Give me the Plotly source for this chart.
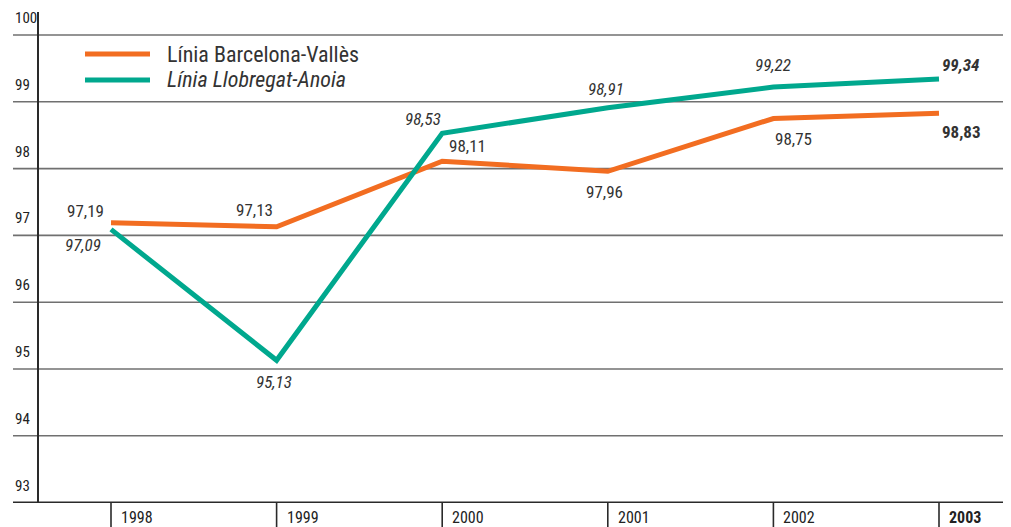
import plotly.graph_objects as go

# ---- data ----
years = [1998, 1999, 2000, 2001, 2002, 2003]
year_labels = ["1998", "1999", "2000", "2001", "2002", "<b>2003</b>"]
barcelona_valles = [97.19, 97.13, 98.11, 97.96, 98.75, 98.83]
llobregat_anoia = [97.09, 95.13, 98.53, 98.91, 99.22, 99.34]
barcelona_text = ["97,19", "97,13", "98,11", "97,96", "98,75", "<b>98,83</b>"]
llobregat_text = ["<i>97,09</i>", "<i>95,13</i>", "<i>98,53</i>", "<i>98,91</i>", "<i>99,22</i>", "<b><i>99,34</i></b>"]
y_ticks = [93, 94, 95, 96, 97, 98, 99, 100]
series_names = ["Línia Barcelona-Vallès", "<i>Línia Llobregat-Anoia</i>"]

# ---- styles ----
ORANGE = "#F26D21"
GREEN = "#00A88E"
TEXT = "#333333"
GRID = "#707070"
AXIS = "#2a2a2a"
FONT = "Roboto Condensed, Liberation Sans Narrow, DejaVu Sans Condensed, Arial Narrow, sans-serif"

# page has an 8px body margin; the figure occupies page pixels 8..1011 x 8..527
BODY = 8
W, H = 1011 - BODY, 527 - BODY
AX_X, AX_TOP, AX_BOT = 38, 12, 503          # page pixel positions of the plot area
ML, MT, MR = AX_X - BODY, AX_TOP - BODY, 0
MB = 527 - AX_BOT
plot_w = W - ML - MR
plot_h = H - MT - MB
px_per_year = 165.6
x0_range = 1998 - (111 - AX_X) / px_per_year
x1_range = x0_range + plot_w / px_per_year
px_per_unit = 66.8
y1_range = 100 + (35 - AX_TOP) / px_per_unit
y0_range = y1_range - plot_h / px_per_unit


def px_x(p):
    return (p - AX_X) / plot_w


def px_y(p):
    return (AX_BOT - p) / plot_h


# label placement (xanchor, xshift, yshift)
orange_pos = [("right", -5, 12), ("right", -2, 17), ("left", 5, 15),
              ("center", -3, -21), ("left", 0, -20), ("left", 1, -19)]
green_pos = [("right", -8, -16), ("center", -3, -22), ("right", 1, 14),
             ("center", -2, 19), ("center", 0, 22), ("left", 1, 14)]

fig = go.Figure()
fig.add_trace(go.Scatter(x=years, y=barcelona_valles, mode="lines", name=series_names[0],
                         line=dict(color=ORANGE, width=5), showlegend=False, cliponaxis=False))
fig.add_trace(go.Scatter(x=years, y=llobregat_anoia, mode="lines", name=series_names[1],
                         line=dict(color=GREEN, width=5), showlegend=False, cliponaxis=False))

shapes = []
gx0 = px_x(13)
# horizontal gridlines
for t in y_ticks:
    shapes.append(dict(type="line", xref="paper", yref="y", x0=gx0, x1=px_x(1030), y0=t, y1=t,
                       line=dict(color=AXIS if t == y_ticks[0] else GRID,
                                 width=2 if t == y_ticks[0] else 1.6), layer="below"))
# vertical axis line
shapes.append(dict(type="line", xref="paper", yref="paper", x0=0, x1=0, y0=0, y1=1,
                   line=dict(color=AXIS, width=2)))
# year tick lines below axis
for yr in years:
    shapes.append(dict(type="line", xref="x", yref="paper", x0=yr, x1=yr, y0=0, y1=px_y(527),
                       line=dict(color=AXIS, width=1.6)))

annotations = []
# y tick labels
for t in y_ticks:
    annotations.append(dict(xref="paper", yref="y", x=px_x(13), y=t, xanchor="left",
                            yanchor="middle", yshift=17, text=str(t), showarrow=False,
                            font=dict(family=FONT, size=15, color="#222222")))
# year labels
for yr, lab in zip(years, year_labels):
    annotations.append(dict(xref="x", yref="paper", x=yr, y=0, xanchor="left", yanchor="top",
                            xshift=8, yshift=-3, text=lab, showarrow=False,
                            font=dict(family=FONT, size=16, color="#222222")))
# data labels
for yr, v, txt, (xa, xs, ys) in zip(years, barcelona_valles, barcelona_text, orange_pos):
    annotations.append(dict(x=yr, y=v, text=txt, xanchor=xa, yanchor="middle", xshift=xs,
                            yshift=ys, showarrow=False, font=dict(family=FONT, size=17, color=TEXT)))
for yr, v, txt, (xa, xs, ys) in zip(years, llobregat_anoia, llobregat_text, green_pos):
    annotations.append(dict(x=yr, y=v, text=txt, xanchor=xa, yanchor="middle", xshift=xs,
                            yshift=ys, showarrow=False, font=dict(family=FONT, size=17, color=TEXT)))

# custom legend
legend_rows = [(54, ORANGE, series_names[0]), (80, GREEN, series_names[1])]
for ypix, col, name in legend_rows:
    yp = px_y(ypix)
    shapes.append(dict(type="line", xref="paper", yref="paper",
                       x0=px_x(85), x1=px_x(150), y0=yp, y1=yp,
                       line=dict(color=col, width=5)))
    annotations.append(dict(xref="paper", yref="paper", x=px_x(165), y=yp,
                            xanchor="left", yanchor="middle", text=name, showarrow=False,
                            font=dict(family=FONT, size=22, color=TEXT)))

fig.update_layout(
    width=W, height=H,
    margin=dict(l=ML, r=MR, t=MT, b=MB, pad=0),
    paper_bgcolor="white", plot_bgcolor="white",
    xaxis=dict(range=[x0_range, x1_range], showgrid=False, zeroline=False, showticklabels=False,
               showline=False, ticks=""),
    yaxis=dict(range=[y0_range, y1_range], showgrid=False, zeroline=False, showticklabels=False,
               showline=False, ticks=""),
    shapes=shapes, annotations=annotations, showlegend=False,
    font=dict(family=FONT, color=TEXT),
)

fig.write_html("out.html")
